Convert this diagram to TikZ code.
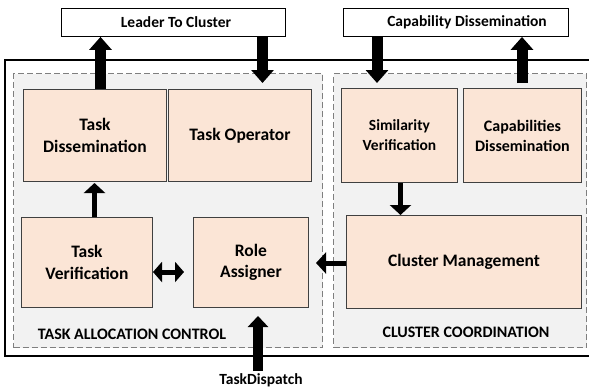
\documentclass[tikz,border=0pt]{standalone}
\usepackage{fontspec}
\setmainfont{Carlito}
\usetikzlibrary{arrows.meta}
\definecolor{peach}{HTML}{FBE5D6}
\definecolor{panel}{HTML}{F2F2F2}
\definecolor{dashgray}{HTML}{7F7F7F}
\definecolor{edge}{HTML}{404040}
\tikzset{
  titlebox/.style={draw=black, line width=0.9pt, fill=white, anchor=north west, inner sep=0pt},
  panelbox/.style={draw=dashgray, line width=1pt, dash pattern=on 6pt off 3pt, fill=panel, anchor=north west, inner sep=0pt},
  blockbox/.style={draw=edge, line width=0.9pt, fill=peach, anchor=north west, inner sep=0pt, align=center, font=\bfseries\fontsize{17.5}{21.5}\selectfont},
  smallblock/.style={blockbox, font=\bfseries\fontsize{15.5}{20}\selectfont},
  thickarr/.style={line width=11pt, -{Triangle[width=22pt,length=13pt]}},
  thinarr/.style={line width=5pt, -{Triangle[width=21pt,length=10pt]}},
  dblarr/.style={line width=5pt, {Triangle[width=20pt,length=9pt]}-{Triangle[width=20pt,length=9pt]}},
  lbl/.style={font=\bfseries\fontsize{16}{19}\selectfont, inner sep=0pt},
  ttl/.style={font=\bfseries\fontsize{15.5}{18}\selectfont, inner sep=0pt}
}
\begin{document}
\begin{tikzpicture}[x=1pt,y=-1pt]
\useasboundingbox (0,0) rectangle (589,389);
% outer frame
\draw[line width=1.3pt] (592,60) -- (5,60) -- (5,356) -- (592,356);
% panels
\node[panelbox, minimum width=309pt, minimum height=274pt] (tac) at (13,73) {};
\node[panelbox, minimum width=253pt, minimum height=274pt] (cc) at (333,73) {};
% title boxes
\node[titlebox, minimum width=224pt, minimum height=28pt] (leader) at (61,8) {};
\node[ttl] (leadertext) at (176,22) {Leader To Cluster};
\node[titlebox, minimum width=225pt, minimum height=28pt] (capbox) at (343,8) {};
\node[ttl] (captext) at (467,22) {Capability Dissemination};
% blocks
\node[blockbox, minimum width=143pt, minimum height=92pt] (td) at (23,89) {Task\\Dissemination};
\node[blockbox, minimum width=143pt, minimum height=92pt] (to) at (168,89) {Task Operator};
\node[smallblock, minimum width=116pt, minimum height=94pt] (sv) at (341,88) {Similarity\\Verification};
\node[blockbox, font=\bfseries\fontsize{16}{20}\selectfont, minimum width=118pt, minimum height=94pt] (cd) at (463,88) {Capabilities\\Dissemination};
\node[blockbox, minimum width=131pt, minimum height=90pt] (tv) at (21,217) {Task\\Verification};
\node[blockbox, minimum width=115pt, minimum height=90pt] (ra) at (193,217) {Role\\Assigner};
\node[blockbox, minimum width=235pt, minimum height=93pt] (cm) at (346,215) {Cluster Management};
% panel labels
\node[lbl] (taclabel) at (132,334) {TASK ALLOCATION CONTROL};
\node[lbl] (cclabel) at (466,332) {CLUSTER COORDINATION};
\node[ttl] (dispatch) at (261,380) {TaskDispatch};
% free arrow ends
\coordinate (toin) at (262.5,83);
\coordinate (svin) at (377,83);
\coordinate (raright) at (316,263);
\coordinate (tvright) at (153,272);
\coordinate (raleft) at (184,272);
\coordinate (rabottom) at (258,316);
\coordinate (dispatchtop) at (258,371);
% arrows
\draw[thickarr] (100.5,0 |- td.north) -- (100.5,0 |- leader.south);
\draw[thickarr] (262.5,0 |- leader.south) -- (toin);
\draw[thickarr] (377,0 |- capbox.south) -- (svin);
\draw[thickarr] (522,83) -- (522,0 |- capbox.south);
\draw[thinarr] (94.5,0 |- tv.north) -- (94.5,183);
\draw[thinarr] (400.5,0 |- sv.south) -- (400.5,0 |- cm.north);
\draw[thinarr] (cm.west |- raright) -- (raright);
\draw[dblarr] (tvright) -- (raleft);
\draw[line width=10pt, -{Triangle[width=20pt,length=11pt]}] (dispatchtop) -- (rabottom);
\end{tikzpicture}
\end{document}
